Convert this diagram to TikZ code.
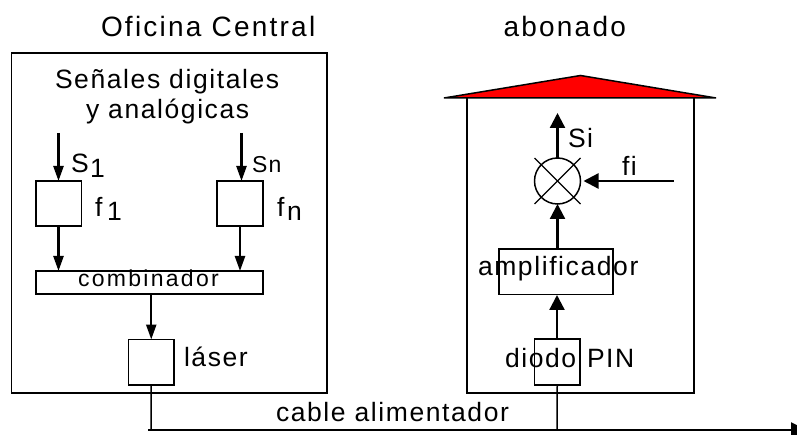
\documentclass[tikz,border=0pt]{standalone}
\usepackage{fontspec}
\setmainfont[LetterSpace=6]{Liberation Sans}
\newfontfamily\titlefont[LetterSpace=8]{Liberation Sans}
\newfontfamily\combfont[LetterSpace=10]{Liberation Sans}
\usetikzlibrary{arrows.meta}
\tikzset{
  box/.style={draw=black,line width=1.5pt,fill=none,inner sep=0pt,outer sep=0pt},
  txt/.style={anchor=base west,inner sep=0pt,outer sep=0pt,font=\fontsize{26.5}{26.5}\selectfont},
  small/.style={anchor=base west,inner sep=0pt,outer sep=0pt,font=\fontsize{23}{23}\selectfont},
  combtxt/.style={anchor=base west,inner sep=0pt,outer sep=0pt,font=\combfont\fontsize{23}{23}\selectfont},
  title/.style={anchor=base west,inner sep=0pt,outer sep=0pt,font=\titlefont\fontsize{28}{28}\selectfont},
  arr/.style={line width=2.3pt,-{Triangle[length=15pt,width=15pt]}},
  narr/.style={line width=2.3pt,-{Triangle[length=15pt,width=10pt]}},
  wire/.style={line width=1.5pt}
}
\newcommand{\rectnode}[5]{\node[box,minimum width=#4pt-#2pt,minimum height=#5pt-#3pt] (#1) at ({(#2+#4)/2},{(#3+#5)/2}) {};}
\begin{document}
\begin{tikzpicture}[x=1pt,y=-1pt]
\useasboundingbox (0,0) rectangle (797,435);
\fill[white] (0,0) rectangle (797,435);
% boxes
\rectnode{central}{11.5}{53}{327}{393}
\rectnode{fone}{36}{181}{81.5}{226}
\rectnode{fn}{217}{181}{263}{226}
\rectnode{comb}{36}{271}{263}{294}
\rectnode{laser}{128.5}{339.5}{174}{385}
\rectnode{amp}{499}{249}{613}{294.5}
\rectnode{pin}{534.5}{339}{580}{385}
% house
\path[fill=red] (444,98) -- (580.5,75.5) -- (716,98) -- cycle;
\draw[line width=1.5pt] (444,98) -- (580.5,75.5) -- (716,98) -- cycle;
\draw[wire] (467,98) -- (467,393) -- (694,393) -- (694,98);
% mixer
\node[draw,circle,line width=1.5pt,minimum size=46pt,inner sep=0pt,outer sep=0pt] (mix) at (557.5,181) {};
\coordinate (xa) at (534.5,158); \coordinate (xb) at (580.5,204);
\coordinate (xc) at (580.5,158); \coordinate (xd) at (534.5,204);
\draw[line width=1.2pt] (xa) -- (xb);
\draw[line width=1.2pt] (xc) -- (xd);
% coordinates
\coordinate (sone) at (58.5,133);
\coordinate (sn) at (241.5,133);
\coordinate (si) at (557.5,113);
\coordinate (fi) at (673.5,181);
\coordinate (feedstart) at (148,430);
\coordinate (feedend) at (807,430);
\coordinate (lasdown) at (151,430);
\coordinate (pindown) at (557,430);
% arrows
\draw[narr] (sone) -- (sone |- fone.north);
\draw[narr] (sn) -- (sn |- fn.north);
\draw[narr] (58.5,226) -- (58.5,271);
\draw[narr] (240,226) -- (240,271);
\draw[narr] (comb.south -| laser.north) -- (laser.north);
\draw[arr] (mix.north) -- (si);
\draw[arr] (fi) -- ([xshift=3pt]mix.east);
\draw[arr] (amp.north -| mix.south) -- (mix.south);
\draw[arr] (pin.north -| mix.south) ++(-0.5,0) -- ++(0,-44);
\draw[wire] (laser.south) -- (lasdown);
\draw[wire] (pin.south) -- (pindown);
\draw[line width=2pt,-{Triangle[length=16pt,width=15pt]}] (feedstart) -- (feedend);
% text
\node[title] (t1) at (101,36.5) {Oficina Central};
\node[title] (t2) at (503.5,36.5) {abonado};
\node[txt] (t3) at (55,88.5) {Señales digitales};
\node[txt] (t4) at (86,118.5) {y analógicas};
\node[txt] (t5) at (71,172.5) {S};
\node[txt] (t6) at (90,178) {1};
\node[small] (t7) at (252,172.5) {Sn};
\node[txt] (t8) at (95,216.5) {f};
\node[txt] (t9) at (107,220.5) {1};
\node[txt] (t10) at (277,216.5) {f};
\node[txt] (t11) at (287,220.5) {n};
\node[combtxt] (t12) at (78,287) {combinador};
\node[txt] (t13) at (184,366) {láser};
\node[txt] (t14) at (276,421) {cable alimentador};
\node[txt] (t15) at (568,148) {Si};
\node[txt] (t16) at (622,176) {fi};
\node[txt] (t17) at (478,276) {amplificador};
\node[txt] (t18) at (505,367) {diodo};
\node[txt] (t19) at (587,367) {PIN};
\end{tikzpicture}
\end{document}
